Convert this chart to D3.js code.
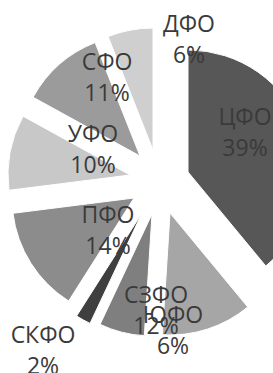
<!DOCTYPE html>
<html>
<head>
<meta charset="utf-8">
<script src="https://cdn.jsdelivr.net/npm/d3@7"></script>
<style>
    html, body { margin: 0; padding: 0; background: #fff; }
    svg { display: block; }
    .slice-label { font-family: "Open Sans", sans-serif; font-size: 23px; fill: #3a3a3a; text-anchor: middle; }
</style>
</head>
<body>
<div id="chart"></div>
<script>
// districts in data order (clockwise from the top)
var districts = ['ЦФО', 'СЗФО', 'ЮФО', 'СКФО', 'ПФО', 'УФО', 'СФО', 'ДФО'];
var shares = [39, 12, 6, 2, 14, 10, 11, 6];
var shareLabels = ['39%', '12%', '6%', '2%', '14%', '10%', '11%', '6%'];

// look of the slices
var fills = ['#575757', '#a6a6a6', '#7f7f7f', '#3f3f3f', '#8c8c8c', '#c8c8c8', '#9b9b9b', '#cfcfcf'];
// how far each slice is pulled out of the pie
var explode = [[38, -8], [20, 33], [2, 34], [-8, 33], [-16, 18], [-20, -5], [-10, -24], [3, -30]];
// where each label sits (first line)
var labelAt = [[245, 125], [156, 303], [173, 323], [43, 343], [108, 223], [93, 142], [107, 70], [189, 32]];

var width = 273,
    height = 373,
    cx = 150,
    cy = 180,
    radius = 122,
    lineHeight = 31;

var svg = d3.select('#chart')
    .append('svg')
    .attr('width', width)
    .attr('height', height);

var pie = d3.pie()
    .sort(null)
    .value(function (d) { return d; });

var arc = d3.arc()
    .innerRadius(0)
    .outerRadius(radius);

var slices = pie(shares);

svg.selectAll('path.slice')
    .data(slices)
    .enter()
    .append('path')
    .attr('class', 'slice')
    .attr('transform', function (d, i) {
        return 'translate(' + (cx + explode[i][0]) + ',' + (cy + explode[i][1]) + ')';
    })
    .attr('d', arc)
    .attr('fill', function (d, i) { return fills[i]; })
    .attr('stroke', '#fff')
    .attr('stroke-width', 1);

var labels = svg.selectAll('text.slice-label')
    .data(slices)
    .enter()
    .append('text')
    .attr('class', 'slice-label')
    .attr('x', function (d, i) { return labelAt[i][0]; })
    .attr('y', function (d, i) { return labelAt[i][1]; });

labels.append('tspan')
    .attr('x', function (d, i) { return labelAt[i][0]; })
    .text(function (d, i) { return districts[i]; });

labels.append('tspan')
    .attr('x', function (d, i) { return labelAt[i][0]; })
    .attr('dy', lineHeight)
    .text(function (d, i) { return shareLabels[i]; });
</script>
</body>
</html>
